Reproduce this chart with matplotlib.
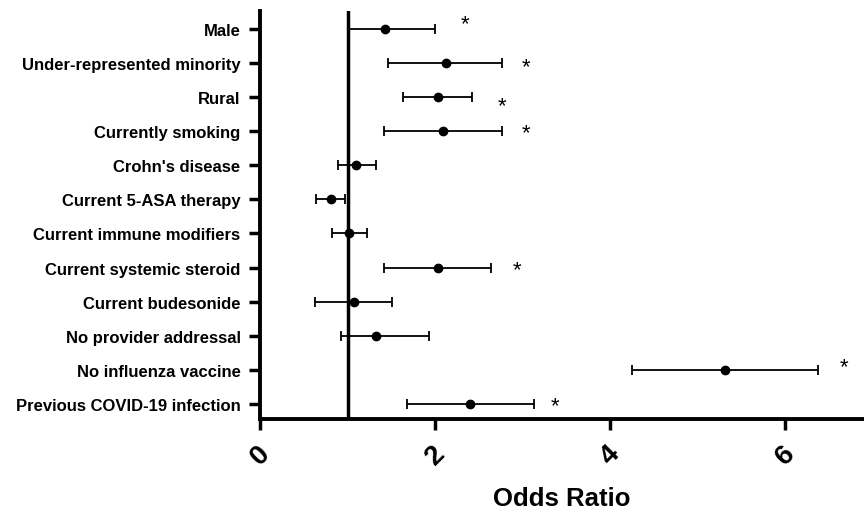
import matplotlib
matplotlib.use("Agg")
import matplotlib.pyplot as plt

plt.rcParams["font.family"] = ["Liberation Sans", "DejaVu Sans"]

factors = ["Male", "Under-represented minority", "Rural", "Currently smoking",
           "Crohn's disease", "Current 5-ASA therapy", "Current immune modifiers",
           "Current systemic steroid", "Current budesonide", "No provider addressal",
           "No influenza vaccine", "Previous COVID-19 infection"]
odds = [1.43, 2.12, 2.03, 2.09, 1.10, 0.81, 1.02, 2.03, 1.07, 1.33, 5.31, 2.40]
ci_low = [1.02, 1.46, 1.63, 1.42, 0.89, 0.64, 0.82, 1.42, 0.63, 0.92, 4.25, 1.68]
ci_high = [2.00, 2.76, 2.42, 2.76, 1.32, 0.97, 1.22, 2.64, 1.51, 1.93, 6.37, 3.13]
# significance stars: (row index, x position, vertical offset in rows)
stars = [(0, 2.34, -0.15), (1, 3.04, 0.12), (2, 2.76, 0.25), (3, 3.04, 0.05),
         (7, 2.94, 0.05), (10, 6.67, -0.1), (11, 3.37, 0.05)]

fig = plt.figure(figsize=(8.64, 5.1), dpi=100)
ax = fig.add_axes([0.301, 0.176, 0.699, 0.8])

ypos = list(range(len(factors)))
xerr = [[o - l for o, l in zip(odds, ci_low)], [h - o for o, h in zip(odds, ci_high)]]
ax.errorbar(odds, ypos, xerr=xerr, fmt="o", color="black", ms=6,
            elinewidth=1.3, capsize=3.8, capthick=1.3)
ax.axvline(1, color="black", lw=2.5)

for i, sx, dy in stars:
    ax.text(sx, i + dy, "*", fontsize=16, ha="center", va="center")

ax.set_yticks(ypos)
ax.set_yticklabels(factors, fontsize=12, fontweight="bold")
ax.set_ylim(11.45, -0.52)
ax.set_xlim(0, 6.9)
ax.set_xticks([0, 2, 4, 6])
ax.set_xticklabels(["0", "2", "4", "6"], fontsize=20, fontweight="bold",
                   rotation=45, ha="center", va="top")
ax.set_xlabel("Odds Ratio", fontsize=18.5, fontweight="bold", labelpad=12)

for s in ["top", "right"]:
    ax.spines[s].set_visible(False)
for s in ["left", "bottom"]:
    ax.spines[s].set_linewidth(2.8)
ax.tick_params(axis="both", width=2.5, length=8, direction="out")
ax.tick_params(axis="x", pad=7)
ax.tick_params(axis="y", pad=6)

fig.savefig("out.png", dpi=100)
